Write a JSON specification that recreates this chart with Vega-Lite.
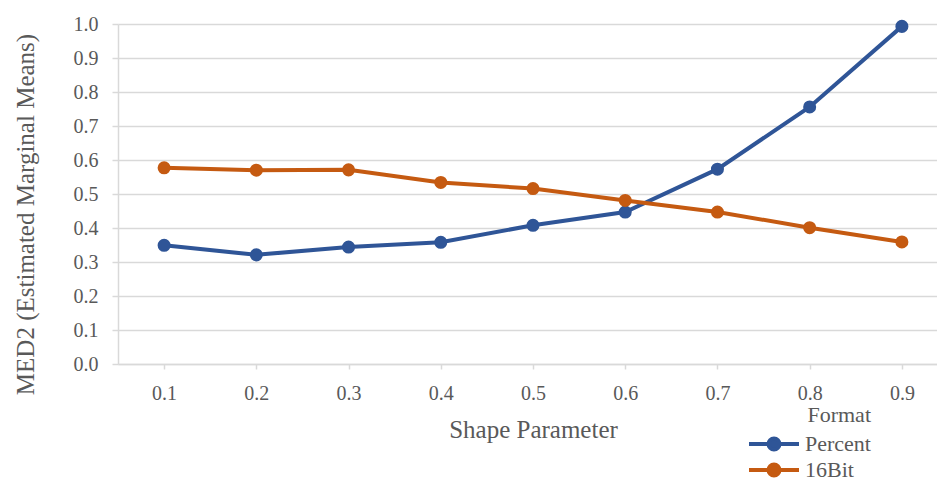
{
  "$schema": "https://vega.github.io/schema/vega-lite/v6.json",
  "width": 819,
  "height": 340,
  "autosize": {"type": "none"},
  "padding": {"left": 118, "top": 24, "right": 0, "bottom": 117},
  "background": "white",
  "config": {
    "view": {"stroke": null},
    "font": "Liberation Serif",
    "axis": {
      "labelFont": "Liberation Serif",
      "titleFont": "Liberation Serif",
      "labelColor": "#595959",
      "titleColor": "#595959",
      "titleFontWeight": "normal",
      "domainColor": "#d9d9d9",
      "domainWidth": 1.5,
      "tickColor": "#d9d9d9",
      "tickWidth": 1.5,
      "gridColor": "#d9d9d9",
      "gridWidth": 1.5
    },
    "legend": {
      "labelFont": "Liberation Serif",
      "titleFont": "Liberation Serif",
      "labelColor": "#595959",
      "titleColor": "#595959",
      "titleFontWeight": "normal"
    }
  },
  "data": {
    "values": [
      {"shape": "0.1", "format": "Percent", "med2": 0.349},
      {"shape": "0.2", "format": "Percent", "med2": 0.321},
      {"shape": "0.3", "format": "Percent", "med2": 0.344},
      {"shape": "0.4", "format": "Percent", "med2": 0.358},
      {"shape": "0.5", "format": "Percent", "med2": 0.408},
      {"shape": "0.6", "format": "Percent", "med2": 0.447},
      {"shape": "0.7", "format": "Percent", "med2": 0.573},
      {"shape": "0.8", "format": "Percent", "med2": 0.756},
      {"shape": "0.9", "format": "Percent", "med2": 0.993},
      {"shape": "0.1", "format": "16Bit", "med2": 0.577},
      {"shape": "0.2", "format": "16Bit", "med2": 0.570},
      {"shape": "0.3", "format": "16Bit", "med2": 0.571},
      {"shape": "0.4", "format": "16Bit", "med2": 0.534},
      {"shape": "0.5", "format": "16Bit", "med2": 0.516},
      {"shape": "0.6", "format": "16Bit", "med2": 0.481},
      {"shape": "0.7", "format": "16Bit", "med2": 0.447},
      {"shape": "0.8", "format": "16Bit", "med2": 0.401},
      {"shape": "0.9", "format": "16Bit", "med2": 0.359}
    ]
  },
  "encoding": {
    "x": {
      "field": "shape",
      "type": "ordinal",
      "sort": null,
      "scale": {"type": "point", "padding": 0.5, "range": [0, 830]},
      "axis": {
        "title": "Shape Parameter",
        "titleFontSize": 25,
        "titleX": 415,
        "titleY": 73,
        "titleAlign": "center",
        "titleBaseline": "alphabetic",
        "labelAngle": 0,
        "labelFontSize": 20,
        "labelPadding": 14,
        "tickSize": 5,
        "grid": false
      }
    },
    "y": {
      "field": "med2",
      "type": "quantitative",
      "scale": {"domain": [0, 1], "nice": false},
      "axis": {
        "title": "MED2 (Estimated Marginal Means)",
        "titleFontSize": 25,
        "titleAngle": -90,
        "titleX": -93,
        "titleY": 190,
        "titleAlign": "center",
        "titleBaseline": "middle",
        "values": [0, 0.1, 0.2, 0.3, 0.4, 0.5, 0.6, 0.7, 0.8, 0.9, 1.0],
        "format": ".1f",
        "labelFontSize": 20,
        "labelPadding": 14,
        "tickSize": 6
      }
    },
    "color": {
      "field": "format",
      "type": "nominal",
      "scale": {"domain": ["Percent", "16Bit"], "range": ["#2f5597", "#c55a11"]},
      "legend": {
        "title": "Format",
        "orient": "none",
        "legendX": 629,
        "legendY": 381,
        "padding": 0,
        "titleFont": "Liberation Serif",
        "labelFont": "Liberation Serif",
        "titleFontSize": 22,
        "titleAnchor": "end",
        "titlePadding": 4,
        "labelFontSize": 22,
        "labelOffset": 4,
        "rowPadding": 0,
        "symbolType": "M-1,0H1M-0.22,0A0.22,0.22 0 1,0 0.22,0A0.22,0.22 0 1,0 -0.22,0Z",
        "symbolSize": 2500,
        "symbolStrokeWidth": 4,
        "clipHeight": 26,
        "encode": {
          "symbols": {
            "update": {
              "fill": {"scale": "color", "field": "value"},
              "stroke": {"scale": "color", "field": "value"},
              "strokeWidth": {"value": 4}
            }
          }
        }
      }
    }
  },
  "layer": [
    {"mark": {"type": "line", "strokeWidth": 4}},
    {"mark": {"type": "point", "filled": true, "size": 170, "opacity": 1}}
  ]
}
